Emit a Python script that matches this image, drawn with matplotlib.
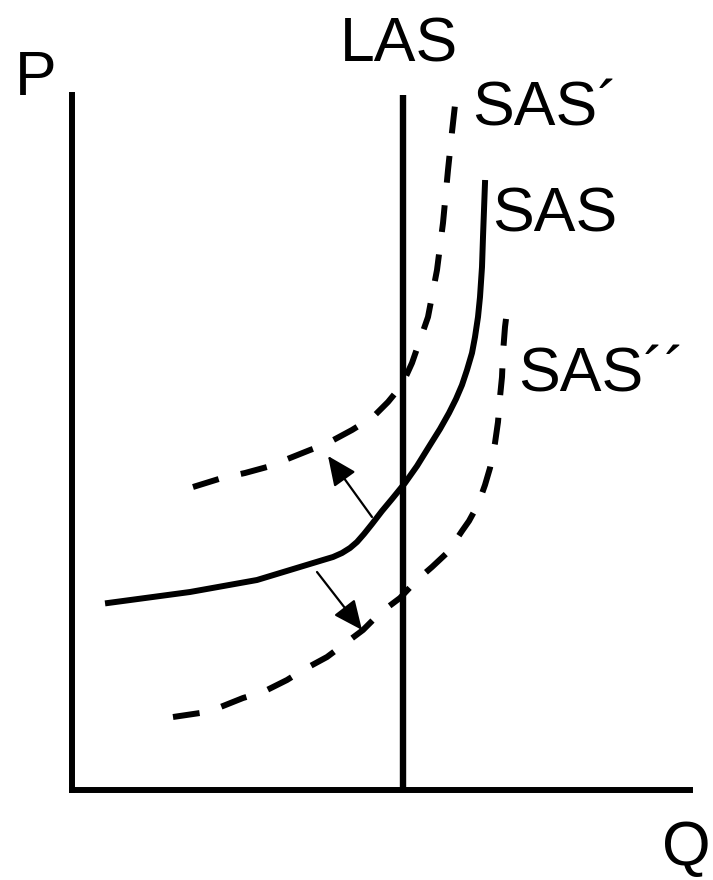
import matplotlib
matplotlib.use("Agg")
import matplotlib.pyplot as plt

plt.rcParams['font.family'] = ['Liberation Sans', 'DejaVu Sans']

# curve points (Q to the right, P upward, origin at axes corner)
sas_q = [36, 118, 185, 251, 261, 270, 278, 285, 292, 300, 310, 320, 333, 345, 358, 368, 377,
         384, 390, 395, 400, 403, 406, 408, 410, 411, 413]
sas_p = [187, 198, 210, 230, 233, 237, 242, 248, 256, 266, 279, 291, 307, 324, 345, 361, 377,
         391, 405, 420, 437, 453, 473, 493, 523, 553, 607]

sas1_q = [121, 150, 173, 195, 218, 238, 254, 280, 301, 316, 330, 340, 348, 356, 365,
          371, 376, 380, 383]
sas1_p = [303, 312, 317, 323, 332, 340, 346, 360, 373, 388, 405, 427, 450, 473, 520,
          567, 620, 658, 685]

sas2_q = [101, 128, 146, 171, 191, 215, 231, 255, 271, 291, 308, 328, 345, 360, 376, 390,
          397, 403, 408, 413, 418, 423, 426, 428, 430, 431, 433, 436]
sas2_p = [73, 77, 82, 92, 98, 110, 120, 133, 145, 160, 177, 192, 210, 223, 238, 259,
          269, 280, 291, 305, 322, 347, 368, 393, 413, 437, 463, 487]

las_q = 331
q_max = 618
p_max = 695

# shift arrows: (start, end)
arrows = [((300, 273), (256, 334)),
          ((245, 218), (290, 160))]

labels = ["P", "LAS", "SAS\u00b4", "SAS", "SAS\u00b4\u00b4", "Q"]
label_pos = [(-57, 695), (327, 728), (400, 665), (420, 558), (446, 398), (639, -75)]
label_ha = ["left", "center", "left", "left", "left", "right"]

fig = plt.figure(figsize=(7.13, 8.80), dpi=100)
ax = fig.add_axes([72 / 713, 90 / 880, 618 / 713, 695 / 880])
ax.set_xlim(0, q_max)
ax.set_ylim(0, p_max)
ax.set_xticks([])
ax.set_yticks([])
for s in ['top', 'right']:
    ax.spines[s].set_visible(False)
for s in ['left', 'bottom']:
    ax.spines[s].set_linewidth(4.3)
    ax.spines[s].set_capstyle('projecting')

# LAS
ax.plot([las_q, las_q], [0, p_max], color='black', lw=4.6, solid_capstyle='butt', clip_on=False)

# SAS curves
ax.plot(sas_q, sas_p, color='black', lw=4.3, solid_joinstyle='round', clip_on=False)
ax.plot(sas1_q, sas1_p, color='black', lw=4.3, dashes=(4.5, 3.8), clip_on=False)
ax.plot(sas2_q, sas2_p, color='black', lw=4.3, dashes=(4.5, 3.8), clip_on=False)

for (x0, y0), (x1, y1) in arrows:
    ax.annotate("", xy=(x1, y1), xytext=(x0, y0),
                arrowprops=dict(arrowstyle='-|>,head_length=1.0,head_width=0.45',
                                mutation_scale=18, lw=1.6, color='black',
                                shrinkA=0, shrinkB=0))

for txt, (x, y), ha in zip(labels, label_pos, label_ha):
    ax.text(x, y, txt, fontsize=45, ha=ha, va='baseline', clip_on=False)

fig.savefig("out.png", dpi=100)
